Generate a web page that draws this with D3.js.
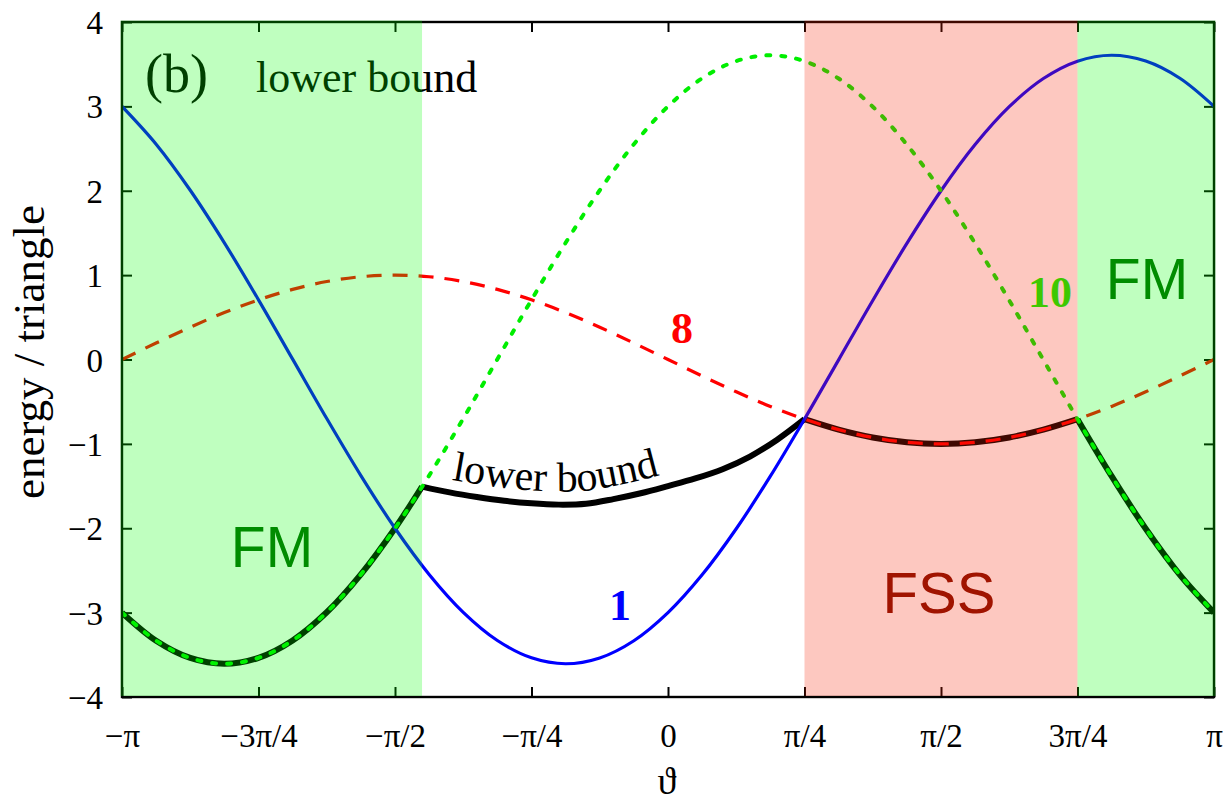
<!DOCTYPE html>
<html><head><meta charset="utf-8">
<script src="https://cdn.jsdelivr.net/npm/d3@7"></script>
<style>body{margin:0;background:#fff} svg{display:block}</style>
</head><body><svg id="c" width="1223" height="804"></svg>
<script>
// theta in units of pi
const theta = [-1,-0.9375,-0.875,-0.8125,-0.75,-0.6875,-0.625,-0.5625,-0.5,-0.4375,-0.375,-0.3125,-0.25,-0.1875,-0.125,-0.0625,0,0.0625,0.125,0.1875,0.25,0.3125,0.375,0.4375,0.5,0.5625,0.625,0.6875,0.75,0.8125,0.875,0.9375,1];
// state "1" (blue solid)
const series1 = [3,2.552,2.006,1.383,0.707,0.004,-0.700,-1.376,-2,-2.547,-2.996,-3.330,-3.536,-3.606,-3.537,-3.333,-3,-2.552,-2.006,-1.383,-0.707,-0.004,0.700,1.376,2,2.547,2.996,3.330,3.536,3.606,3.537,3.333,3];
// state "8" (red dashed)
const series8 = [0,0.195,0.383,0.556,0.707,0.831,0.924,0.981,1,0.981,0.924,0.831,0.707,0.556,0.383,0.195,0,-0.195,-0.383,-0.556,-0.707,-0.831,-0.924,-0.981,-1,-0.981,-0.924,-0.831,-0.707,-0.556,-0.383,-0.195,0];
// state "10" (green dotted)
const series10 = [-3,-3.333,-3.537,-3.606,-3.536,-3.330,-2.996,-2.547,-2,-1.376,-0.700,0.004,0.707,1.383,2.006,2.552,3,3.333,3.537,3.606,3.536,3.330,2.996,2.547,2,1.376,0.700,-0.004,-0.707,-1.383,-2.006,-2.552,-3];
// lower bound (black) in the intermediate region
const lbTheta = [-0.4505,-0.4,-0.35,-0.3,-0.25,-0.2,-0.15,-0.1,-0.05,0,0.05,0.1,0.15,0.2,0.25];
const lbValues = [-1.506,-1.575,-1.63,-1.675,-1.705,-1.72,-1.71,-1.655,-1.585,-1.50,-1.41,-1.30,-1.15,-0.95,-0.707];
// phase regions
const phaseNames = ["FM","FSS","FM"];
const phaseFrom = [-1,0.25,0.75];
const phaseTo = [-0.4505,0.75,1];
// ticks
const xTickValues = [-1,-0.75,-0.5,-0.25,0,0.25,0.5,0.75,1];
const xTickLabels = ["\u2212\u03c0","\u22123\u03c0/4","\u2212\u03c0/2","\u2212\u03c0/4","0","\u03c0/4","\u03c0/2","3\u03c0/4","\u03c0"];
const yTickValues = [-4,-3,-2,-1,0,1,2,3,4];
const yTickLabels = ["\u22124","\u22123","\u22122","\u22121","0","1","2","3","4"];

const svg = d3.select("#c");
const m = {l:122, r:1214, t:22, b:697};
const x = d3.scaleLinear().domain([-1,1]).range([m.l,m.r]);
const y = d3.scaleLinear().domain([-4,4]).range([m.b,m.t]);
const serif = "'Liberation Serif','Times New Roman',serif";
const sans = "'Liberation Sans',Arial,sans-serif";

svg.append("defs").append("clipPath").attr("id","plotclip")
  .append("rect").attr("x",m.l).attr("y",m.t).attr("width",m.r-m.l).attr("height",m.b-m.t);

// axes (ticks inward on all four sides)
const ax = svg.append("g");
const axB = ax.append("g").attr("transform",`translate(0,${m.b})`)
  .call(d3.axisBottom(x).tickValues(xTickValues).tickSize(-10).tickPadding(20).tickFormat((d,i)=>xTickLabels[i]));
const axT = ax.append("g").attr("transform",`translate(0,${m.t})`)
  .call(d3.axisTop(x).tickValues(xTickValues).tickSize(-10).tickFormat(""));
const axL = ax.append("g").attr("transform",`translate(${m.l},0)`)
  .call(d3.axisLeft(y).tickValues(yTickValues).tickSize(-10).tickPadding(20).tickFormat((d,i)=>yTickLabels[i]));
const axR = ax.append("g").attr("transform",`translate(${m.r},0)`)
  .call(d3.axisRight(y).tickValues(yTickValues).tickSize(-10).tickFormat(""));
ax.selectAll(".domain").remove();
ax.selectAll(".tick line").attr("stroke","#000").attr("stroke-width",2);
ax.selectAll(".tick text").attr("font-family",serif).attr("font-size",33).attr("fill","#000");
axB.selectAll(".tick text").attr("dy",null).attr("y",50);
axL.selectAll(".tick text").attr("dy","0.35em").attr("x",-19);

const plot = svg.append("g").attr("clip-path","url(#plotclip)");
const pts = vals => theta.map((t,i)=>[t,vals[i]]);
const line = d3.line().x(d=>x(d[0])).y(d=>y(d[1])).curve(d3.curveCatmullRom);

// lower bound segments (thick black)
const lbMid = lbTheta.map((t,i)=>[t,lbValues[i]]);
const seg1 = pts(series10).filter(d=>d[0]<=-0.5).concat([lbMid[0]]);
const seg3 = pts(series8).filter(d=>d[0]>=0.25 && d[0]<=0.75);
const seg4 = pts(series10).filter(d=>d[0]>=0.75);
[seg1,lbMid,seg3,seg4].forEach(s=>{
  plot.append("path").attr("d",line(s)).attr("fill","none").attr("stroke","#000")
    .attr("stroke-width",6).attr("stroke-linejoin","round");
});

plot.append("path").attr("d",line(pts(series1))).attr("fill","none").attr("stroke","#0000ff").attr("stroke-width",3.2);
plot.append("path").attr("d",line(pts(series8))).attr("fill","none").attr("stroke","#ff0000").attr("stroke-width",3.2)
  .attr("stroke-dasharray","15,11");
plot.append("path").attr("d",line(pts(series10))).attr("fill","none").attr("stroke","#00ee00").attr("stroke-width",4)
  .attr("stroke-dasharray","4,11").attr("stroke-linecap","round");

// frame
svg.append("rect").attr("x",m.l).attr("y",m.t).attr("width",m.r-m.l).attr("height",m.b-m.t)
  .attr("fill","none").attr("stroke","#000").attr("stroke-width",2.4);

// curve label along lower bound
const offLine = d3.line().x(d=>x(d[0])).y(d=>y(d[1])-13).curve(d3.curveCatmullRom);
svg.append("defs").append("path").attr("id","lbpath").attr("d",offLine(lbMid));
svg.append("text").attr("font-family",serif).attr("font-size",42).attr("fill","#000")
  .append("textPath").attr("href","#lbpath").attr("startOffset",30).text("lower bound");

// number labels
svg.append("text").attr("x",620).attr("y",620).attr("text-anchor","middle").attr("font-family",serif)
  .attr("font-weight","bold").attr("font-size",44).attr("fill","#0000ff").text("1");
svg.append("text").attr("x",682).attr("y",343).attr("text-anchor","middle").attr("font-family",serif)
  .attr("font-weight","bold").attr("font-size",44).attr("fill","#ff0000").text("8");
svg.append("text").attr("x",1050).attr("y",307).attr("text-anchor","middle").attr("font-family",serif)
  .attr("font-weight","bold").attr("font-size",44).attr("fill","#00ff00").text("10");

// panel label and legend text
svg.append("text").attr("x",145).attr("y",92).attr("font-family",serif).attr("font-size",54).attr("fill","#000").text("(b)");
svg.append("text").attr("x",256).attr("y",92).attr("font-family",serif).attr("font-size",44).attr("fill","#000").text("lower bound");

// translucent phase shading drawn on top
const shadeColor = {FM:"rgb(0,255,0)", FSS:"rgb(247,35,3)"};
phaseNames.forEach((p,i)=>{
  svg.append("rect").attr("x",x(phaseFrom[i])-(i===0?1.5:0)).attr("y",m.t-1.5)
    .attr("width",x(phaseTo[i])-x(phaseFrom[i])+(i===0?1.5:0)+(i===2?1.5:0)).attr("height",m.b-m.t+0.5)
    .attr("fill",shadeColor[p]).attr("fill-opacity",0.25);
});

// phase labels
svg.append("text").attr("x",272).attr("y",567).attr("text-anchor","middle").attr("font-family",sans)
  .attr("font-size",57).attr("fill","#008c00").text("FM");
svg.append("text").attr("x",1147).attr("y",299).attr("text-anchor","middle").attr("font-family",sans)
  .attr("font-size",57).attr("fill","#008c00").text("FM");
svg.append("text").attr("x",939).attr("y",613).attr("text-anchor","middle").attr("font-family",sans)
  .attr("font-size",58).attr("fill","#a01400").text("FSS");

// axis titles
svg.append("text").attr("transform","translate(44,352) rotate(-90)").attr("text-anchor","middle")
  .attr("font-family",serif).attr("font-size",45).attr("fill","#000").text("energy / triangle");
svg.append("text").attr("x",667).attr("y",794).attr("text-anchor","middle")
  .attr("font-family",serif).attr("font-size",38).attr("fill","#000").text("\u03d1");
</script></body></html>
